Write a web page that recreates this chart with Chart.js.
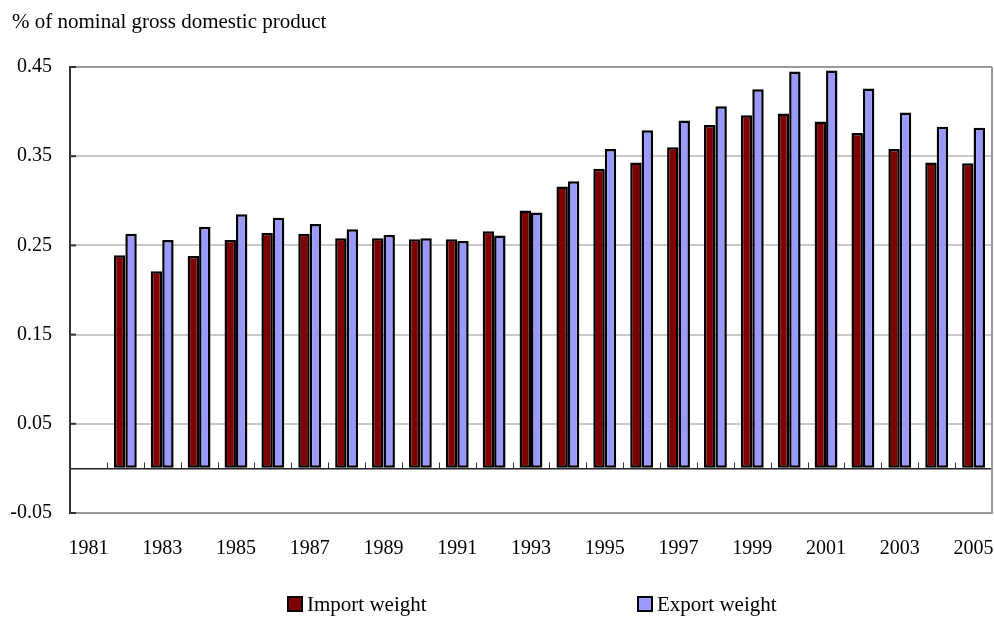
<!DOCTYPE html>
<html>
<head>
<meta charset="utf-8">
<script src="https://cdn.jsdelivr.net/npm/chart.js@4.4.1/dist/chart.umd.min.js"></script>
<style>
  html, body { margin: 0; padding: 0; background: #fff; }
  #wrap { position: relative; width: 994px; height: 617px; overflow: hidden; font-family: "Liberation Serif", "Times New Roman", serif; }
  #title { position: absolute; left: 12px; top: 9px; font-size: 21px; color: #000; }
  .leg { position: absolute; top: 592px; font-size: 21px; color: #000; white-space: nowrap; }
  .leg i { display: inline-block; width: 12px; height: 12px; border: 2px solid #000; margin-right: 4px; vertical-align: -1px; }
  canvas { position: absolute; left: 0; top: 0; }
</style>
</head>
<body>
<div id="wrap">
  <canvas id="graph-container" width="994" height="617"></canvas>
  <div id="title">% of nominal gross domestic product</div>
  <div class="leg" style="left:287px"><i style="background:#800000"></i>Import weight</div>
  <div class="leg" style="left:637px"><i style="background:#9999ff"></i>Export weight</div>
</div>
<script>
// Years on the category axis (1981 has no data)
const years = ['1981', '1982', '1983', '1984', '1985', '1986', '1987', '1988', '1989', '1990',
  '1991', '1992', '1993', '1994', '1995', '1996', '1997', '1998', '1999', '2000',
  '2001', '2002', '2003', '2004', '2005'];

const importWeight = [null, 0.239, 0.221, 0.238, 0.256, 0.264, 0.263, 0.258, 0.258, 0.257,
  0.257, 0.266, 0.289, 0.316, 0.336, 0.343, 0.360, 0.385, 0.396, 0.398,
  0.389, 0.376, 0.358, 0.343, 0.342];

const exportWeight = [null, 0.263, 0.256, 0.271, 0.285, 0.281, 0.274, 0.268, 0.262, 0.258,
  0.255, 0.261, 0.287, 0.322, 0.358, 0.379, 0.390, 0.406, 0.425, 0.445,
  0.446, 0.426, 0.399, 0.383, 0.382];

const yTicks = [-0.05, 0, 0.05, 0.15, 0.25, 0.35, 0.45];

// Small tick marks on the zero line, y-axis ticks and the right border
const axisMarks = {
  id: 'axisMarks',
  beforeDatasetsDraw(chart) {
    const { ctx, chartArea: a, scales: { y } } = chart;
    const y0 = y.getPixelForValue(0);
    const step = (a.right - a.left) / years.length;
    ctx.save();
    ctx.strokeStyle = '#333';
    ctx.lineWidth = 1;
    for (let i = 1; i < years.length; i++) {
      const px = Math.round(a.left + i * step) + 0.5;
      ctx.beginPath();
      ctx.moveTo(px, y0 - 6);
      ctx.lineTo(px, y0);
      ctx.stroke();
    }
    ctx.lineWidth = 2;
    yTicks.forEach(v => {
      if (v === 0) return;
      const py = y.getPixelForValue(v);
      ctx.beginPath();
      ctx.moveTo(a.left, py);
      ctx.lineTo(a.left + 6, py);
      ctx.stroke();
    });
    ctx.strokeStyle = '#999';
    ctx.beginPath();
    ctx.moveTo(a.right, a.top);
    ctx.lineTo(a.right, a.bottom);
    ctx.stroke();
    ctx.restore();
  }
};

const font = { family: '"Liberation Serif", "Times New Roman", serif', size: 20 };

new Chart(document.getElementById('graph-container'), {
  type: 'bar',
  data: {
    labels: years,
    datasets: [
      { label: 'Import weight', data: importWeight, backgroundColor: '#800000' },
      { label: 'Export weight', data: exportWeight, backgroundColor: '#9999ff' }
    ]
  },
  options: {
    responsive: false,
    animation: false,
    events: [],
    layout: { padding: { top: 67, right: 2, left: 0, bottom: 0 } },
    datasets: {
      bar: { barPercentage: 1, categoryPercentage: 0.62, borderColor: '#000', borderWidth: 2.5, borderSkipped: false }
    },
    plugins: { legend: { display: false }, title: { display: false }, tooltip: { enabled: false } },
    scales: {
      x: {
        grid: { display: false, drawTicks: false },
        border: { color: '#999', width: 2 },
        ticks: {
          color: '#000', font, padding: 24, autoSkip: false, maxRotation: 0,
          callback: (v, i) => (i % 2 === 0 ? years[i] : '')
        },
        afterFit: s => { s.height = 104; s.paddingLeft = 0; s.paddingRight = 0; }
      },
      y: {
        min: -0.05,
        max: 0.45,
        afterBuildTicks: s => { s.ticks = yTicks.map(v => ({ value: v })); },
        grid: {
          drawTicks: false,
          color: c => (c.tick.value === 0 ? '#222' : c.tick.value === 0.45 ? '#999' : c.tick.value === -0.05 ? '#999' : '#c8c8c8'),
          lineWidth: c => (c.tick.value === 0 ? 1.5 : 2)
        },
        border: { color: '#333', width: 2 },
        ticks: {
          color: '#000', font, padding: 18,
          callback: v => (v === 0 ? '' : v.toFixed(2))
        },
        afterFit: s => { s.width = 70; }
      }
    }
  },
  plugins: [axisMarks]
});
</script>
</body>
</html>
